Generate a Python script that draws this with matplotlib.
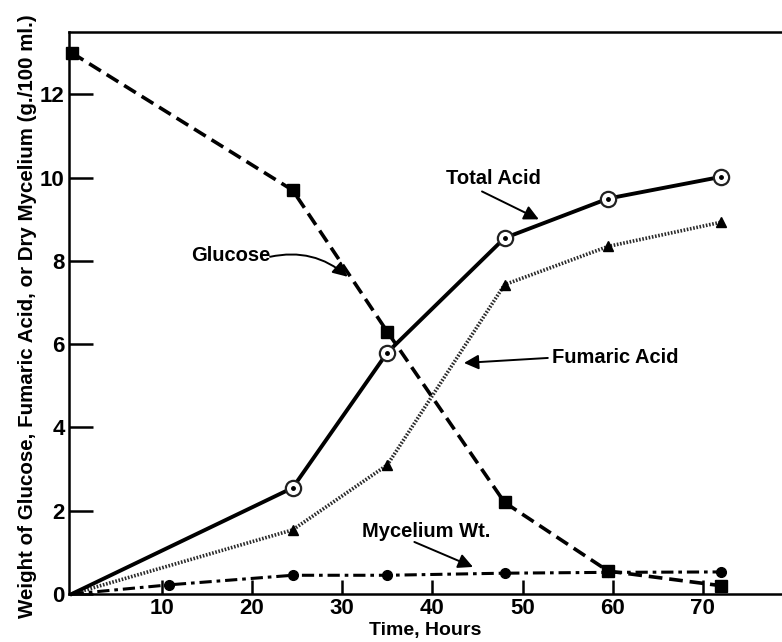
import numpy as np
import matplotlib
matplotlib.use('Agg')
import matplotlib.pyplot as plt

# Fermentation time course (hours) and weights in g./100 ml.
hours = [0, 24.5, 35, 48, 59.5, 72]
glucose = [13.0, 9.7, 6.3, 2.2, 0.55, 0.2]
total_acid = [0.0, 2.55, 5.8, 8.55, 9.5, 10.02]
fumaric_acid = [0.0, 1.54, 3.1, 7.43, 8.35, 8.93]
myc_hours = [0, 10.8, 24.5, 35, 48, 59.5, 72]
mycelium = [0.0, 0.22, 0.45, 0.45, 0.5, 0.52, 0.53]

x_ticks = [10, 20, 30, 40, 50, 60, 70]
y_ticks = [0, 2, 4, 6, 8, 10, 12]

plt.rcParams['font.family'] = ['Liberation Sans', 'DejaVu Sans']
plt.rcParams['font.weight'] = 'bold'

fig = plt.figure(figsize=(7.82, 6.42), dpi=100)
ax = fig.add_axes([69 / 782, 1 - 594 / 642, 1 - 69 / 782, (594 - 32) / 642])

ax.plot(hours, glucose, color='black', lw=2.6, ls=(0, (3.8, 1.9)),
        marker='s', ms=8.5, mfc='black', mec='black', clip_on=False, zorder=3)
ax.plot(hours, fumaric_acid, color='#2a2a2a', lw=2.6, ls=(0, (0.45, 0.45)),
        marker='^', ms=7.5, mfc='black', mec='black', markevery=slice(1, None),
        clip_on=False, zorder=3)
ax.plot(myc_hours, mycelium, color='black', lw=2.2, ls=(0, (4, 1.6, 1.2, 1.6)),
        marker='o', ms=7, mfc='black', mec='black', markevery=slice(1, None),
        clip_on=False, zorder=3)
ax.plot(hours, total_acid, color='black', lw=2.8, marker='o', ms=11,
        mfc='white', mec='#222222', mew=1.6, markevery=slice(1, None),
        clip_on=False, zorder=4)
ax.plot(hours[1:], total_acid[1:], ls='none', marker='o', ms=2.5,
        mfc='black', mec='black', zorder=5)

ax.set_xlim(-0.3, 78.77)
ax.set_ylim(0, 13.5)
ax.set_xticks(x_ticks)
ax.set_yticks(y_ticks)
ax.tick_params(axis='y', direction='in', length=17, width=1.8, labelsize=16, pad=3)
ax.tick_params(axis='x', direction='in', length=10, width=1.8, labelsize=16, pad=3)
for lab in ax.get_xticklabels() + ax.get_yticklabels():
    lab.set_fontweight('bold')

ax.spines['right'].set_visible(False)
for s in ['left', 'bottom', 'top']:
    ax.spines[s].set_linewidth(1.8)

ax.set_xlabel('Time, Hours', fontsize=14, fontweight='bold', labelpad=2)
ax.set_ylabel('Weight of Glucose, Fumaric Acid, or Dry Mycelium (g./100 ml.)',
              fontsize=14.8, fontweight='bold')
ax.yaxis.set_label_coords(-0.045, 0.495)

# labels with pointer arrows
arrow = dict(arrowstyle='-|>', color='black', lw=1.4, mutation_scale=22,
             shrinkA=0, shrinkB=0)
notes = [
    ('Glucose', (17.6, 8.12), (22.0, 8.1), (30.6, 7.62), -0.25),
    ('Total Acid', (46.8, 9.98), (45.5, 9.67), (51.8, 9.0), 0.0),
    ('Fumaric Acid', (60.3, 5.67), (52.8, 5.67), (43.5, 5.55), 0.0),
    ('Mycelium Wt.', (39.3, 1.49), (38.0, 1.25), (44.5, 0.65), 0.0),
]
for txt, pos, start, tip, rad in notes:
    ax.text(pos[0], pos[1], txt, fontsize=14.5, fontweight='bold',
            ha='center', va='center')
    ax.annotate('', xy=tip, xytext=start,
                arrowprops=dict(arrow, connectionstyle='arc3,rad=%g' % rad))

fig.savefig('out.png', dpi=100)
